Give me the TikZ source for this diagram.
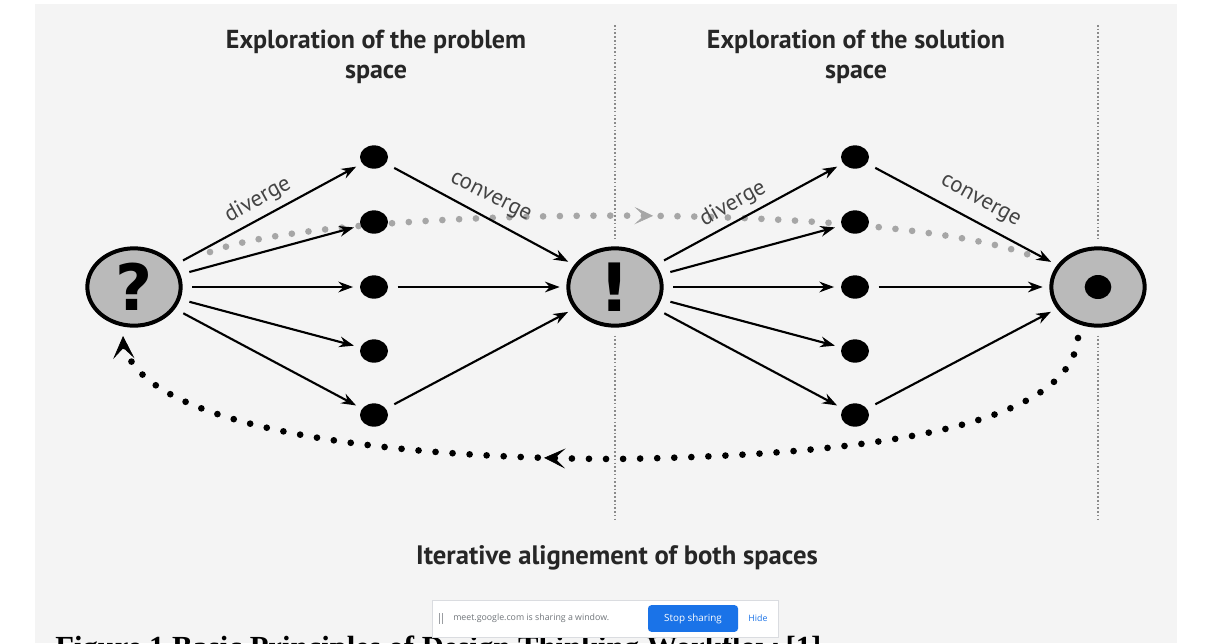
\documentclass[tikz,border=0pt]{standalone}
\usepackage{fontspec}
\setmainfont{PT Sans}
\newfontfamily\djv{DejaVu Sans}
\newfontfamily\capfont{Liberation Serif}
\newfontfamily\uifont{Open Sans}
\usetikzlibrary{arrows.meta,shapes.geometric,decorations.markings}
\definecolor{panel}{HTML}{F4F4F4}
\definecolor{circgray}{HTML}{BABABA}
\definecolor{lblgray}{HTML}{444444}
\definecolor{gdot}{HTML}{A6A6A6}
\definecolor{vgray}{HTML}{8A8A8A}
\definecolor{gblue}{HTML}{1A73E8}
\definecolor{barborder}{HTML}{DADCE0}
\definecolor{bartext}{HTML}{70757A}
\tikzset{
  bignode/.style={ellipse, draw=black, line width=3pt, fill=circgray, minimum width=70pt, minimum height=58pt, inner sep=0pt},
  dotnode/.style={ellipse, fill=black, minimum width=21pt, minimum height=17.5pt, inner sep=0pt},
  arr/.style={line width=1.6pt, -{Stealth[length=11pt,width=8pt]}, shorten <=7pt, shorten >=5pt},
  lbl/.style={text=lblgray, font=\fontsize{17}{17}\selectfont, inner sep=0pt},
  title/.style={align=center, text=black!85, font=\bfseries\fontsize{19.5}{22.5}\selectfont},
  vline/.style={vgray, line width=0.9pt, dash pattern=on 1.2pt off 1.6pt},
  graydots/.style={gdot, line width=5pt, line cap=round, dash pattern=on 0pt off 12.6pt},
  blackdots/.style={black, line width=5pt, line cap=round, dash pattern=on 0pt off 12.8pt},
}
\begin{document}
\begin{tikzpicture}[x=0.75pt,y=-0.75pt]
\useasboundingbox (0,0) rectangle (1210,643);
\clip (0,0) rectangle (1210,643);
\fill[white] (0,0) rectangle (1210,643);
\fill[panel] (35,4) rectangle (1177,643);

% titles
\node[title] (t1) at (376,57) {Exploration of the problem\\space};
\node[title] (t2) at (856,57) {Exploration of the solution\\space};
\node[title, font=\bfseries\fontsize{20}{22}\selectfont] (t3) at (617,558) {Iterative alignement of both spaces};

% coordinates of the loops
\coordinate (g0) at (210,252);
\coordinate (g1) at (1037,258);
\coordinate (r0) at (1078,338);
\coordinate (m0) at (615,459);
\coordinate (l0) at (123,336);

% gray dotted arc on top (behind the dots)
\draw[graydots, postaction={decorate}, decoration={markings, mark=at position 0.535 with {\arrow{Stealth[length=14pt,width=13pt,inset=7pt,line width=0.5pt]}}}]
  (g0) .. controls (330,205) and (900,200) .. (g1);

% main nodes
\node[bignode] (q) at (134,287) {\djv\bfseries\fontsize{48}{48}\selectfont ?};
\node[bignode] (e) at (615,287) {\djv\bfseries\fontsize{50}{50}\selectfont !};
\node[bignode] (s) at (1098,287) {};
\node[dotnode, minimum width=20pt, minimum height=18pt] (sd) at (1098,287) {};

\foreach \i/\y in {1/157,2/222,3/287,4/351,5/415}{
  \node[dotnode] (a\i) at (374,\y) {};
  \node[dotnode] (b\i) at (855,\y) {};
}

% vertical dotted separators
\coordinate (v1t) at (615,25);
\coordinate (v1b) at (615,520);
\coordinate (v2t) at (1098,25);
\coordinate (v2b) at (1098,520);
\draw[vline, shorten >=6pt] (v1t) -- (e.north);
\draw[vline, shorten <=6pt] (e.south) -- (v1b);
\draw[vline, shorten >=6pt] (v2t) -- (s.north);
\draw[vline, shorten <=6pt] (s.south) -- (v2b);

% black dotted return loop
\draw[blackdots, postaction={decorate}, decoration={markings,
    mark=at position 0.555 with {\arrow{Stealth[length=16pt,width=15pt,inset=8pt,line width=0.5pt]}},
    mark=at position 1 with {\arrow{Stealth[length=17pt,width=16pt,inset=8pt,line width=0.5pt]}}}]
  (r0) .. controls (1070,420) and (900,455) .. (m0) .. controls (350,458) and (126,420) .. (l0);

% diverge / converge arrows
\foreach \i in {1,...,5}{
  \draw[arr] (q) -- (a\i);
  \draw[arr] (e) -- (b\i);
}
\foreach \i in {1,3,5}{
  \draw[arr] (a\i) -- (e);
  \draw[arr] (b\i) -- (s);
}

% labels
\node[lbl, rotate=29] (d1) at (258,200) {diverge};
\node[lbl, rotate=-27] (c1) at (490,198) {converge};
\node[lbl, rotate=29] (d2) at (733,204) {diverge};
\node[lbl, rotate=-29] (c2) at (980,202) {converge};

% cut-off caption
\node[anchor=base west, inner sep=0pt, font=\capfont\bfseries\fontsize{23}{23}\selectfont] (cap) at (55,657) {Figure 1 Basic Principles of Design Thinking Workflow [1]};

% screen-sharing bar
\node[draw=barborder, fill=white, line width=0.6pt, minimum width=259.5pt, minimum height=27.75pt, inner sep=0pt] (bar) at (605,618.5) {};
\draw[bartext!70, line width=0.5pt] (439,613) -- (439,624) (442,613) -- (442,624);
\node[anchor=west, inner sep=0pt, text=bartext, font=\uifont\fontsize{6.6}{7}\selectfont] (msg) at (453,618.5) {meet.google.com is sharing a window.};
\node[fill=gblue, rounded corners=2.5pt, minimum width=67.5pt, minimum height=20pt, inner sep=0pt, text=white, font=\uifont\fontsize{7.4}{8}\selectfont] (stop) at (693,618.5) {Stop sharing};
\node[inner sep=0pt, text=gblue, font=\uifont\fontsize{6.6}{7}\selectfont] (hide) at (758,618.5) {Hide};
\end{tikzpicture}
\end{document}
